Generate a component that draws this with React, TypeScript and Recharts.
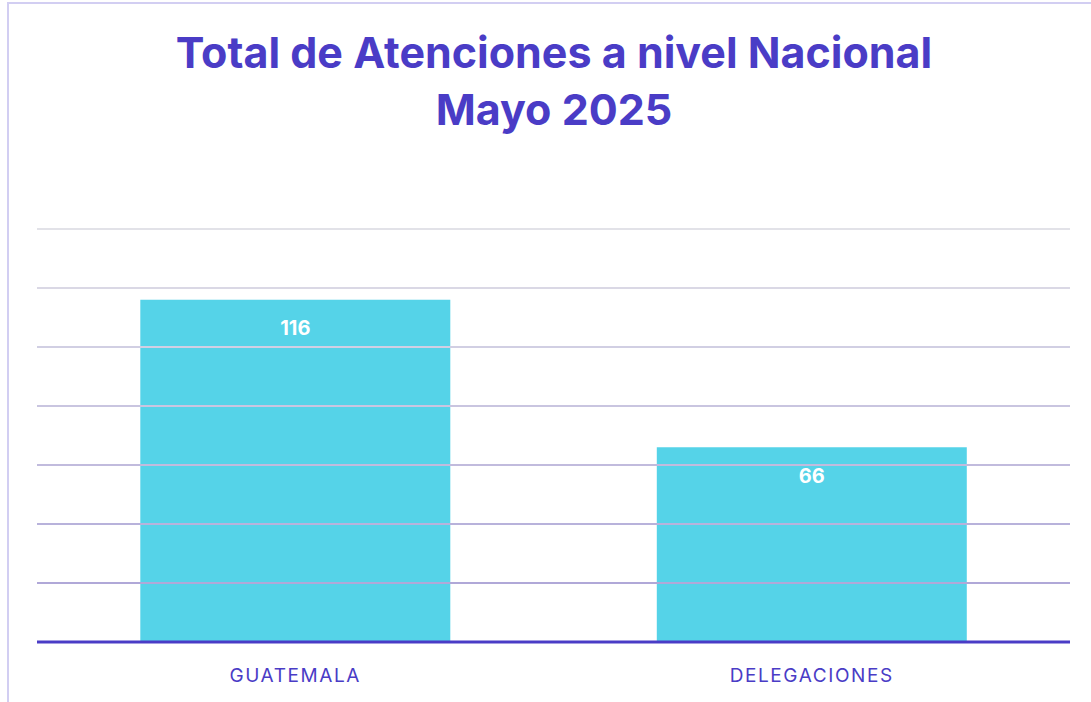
import { BarChart, Bar, XAxis, YAxis, ReferenceLine, LabelList } from "recharts";

// Datos del reporte (mayo 2025)
const categories = ["GUATEMALA", "DELEGACIONES"];
const atenciones = [116, 66];
const yTicks = [20, 40, 60, 80, 100, 120, 140];

const data = categories.map((name, i) => ({ name, atenciones: atenciones[i] }));

// gridlines fade from lavender (bottom) to light grey (top)
const gridColor = (v: number) => {
  const t = (v - 20) / 120;
  const from = [176, 168, 216];
  const to = [226, 226, 232];
  const c = from.map((f, i) => Math.round(f + (to[i] - f) * t));
  return `rgb(${c[0]},${c[1]},${c[2]})`;
};

const PURPLE = "#4a3cc6";

export default function App() {
  return (
    <div
      style={{
        position: "absolute",
        left: 0,
        top: 0,
        width: 1091,
        height: 702,
        overflow: "hidden",
        background: "#fff",
        fontFamily: "Inter, sans-serif",
      }}
    >
      <div
        style={{
          position: "absolute",
          left: 7,
          top: 2,
          width: 1200,
          height: 800,
          borderLeft: "2px solid #d2cef2",
          borderTop: "2px solid #d2cef2",
        }}
      />
      <div
        style={{
          position: "absolute",
          left: 0,
          width: 1108,
          top: 24,
          textAlign: "center",
          color: PURPLE,
          fontWeight: 700,
          fontSize: 43,
          lineHeight: "57px",
        }}
      >
        Total de Atenciones a nivel Nacional
        <br />
        Mayo 2025
      </div>
      <div style={{ position: "absolute", left: 0, top: 0 }}>
        <BarChart
          width={1091}
          height={702}
          data={data}
          margin={{ top: 229, right: 21, bottom: 0, left: 37 }}
          barCategoryGap="20%"
        >
          <XAxis
            dataKey="name"
            height={60}
            axisLine={{ stroke: PURPLE, strokeWidth: 3 }}
            tickLine={false}
            tickMargin={21}
            tick={{ fill: PURPLE, fontSize: 19, letterSpacing: 1.6 }}
          />
          <YAxis hide domain={[0, 140]} ticks={[0, ...yTicks]} />
          <Bar
            dataKey="atenciones"
            fill="#37cbe4"
            fillOpacity={0.85}
            isAnimationActive={false}
          >
            <LabelList
              dataKey="atenciones"
              position="insideTop"
              offset={21}
              fill="#fff"
              fontSize={20}
              fontWeight={700}
            />
          </Bar>
          {yTicks.map((v) => (
            <ReferenceLine key={v} y={v} stroke={gridColor(v)} strokeWidth={2} />
          ))}
        </BarChart>
      </div>
    </div>
  );
}
